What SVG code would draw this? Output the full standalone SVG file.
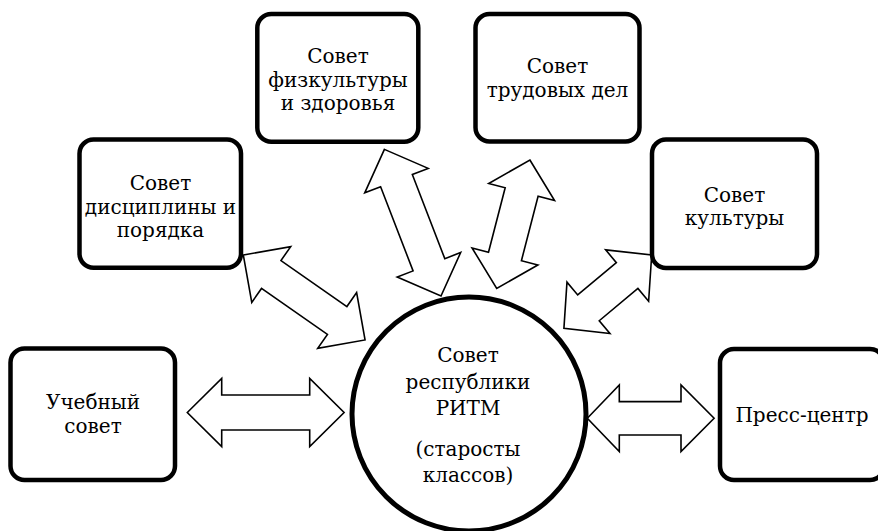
<svg xmlns="http://www.w3.org/2000/svg" width="878" height="531" viewBox="0 0 878 531">
  <style>
    .box { fill: #fff; stroke: #000; stroke-width: 4.5; }
    .arrow { fill: #fff; stroke: #000; stroke-width: 1.6; stroke-linejoin: miter; }
    text { font-family: 'DejaVu Serif', 'Liberation Serif', serif; font-size: 20px; fill: #000; text-anchor: middle; }
  </style>
  <rect width="878" height="531" fill="#fff"/>
  <g id="connectors">
    <path class="arrow" transform="translate(304.2 297.5) rotate(34.9)" d="M -74.2 0 L -40.2 -34 L -40.2 -17 L 40.2 -17 L 40.2 -34 L 74.2 0 L 40.2 34 L 40.2 17 L -40.2 17 L -40.2 34 Z"/>
    <path class="arrow" transform="translate(412.7 222.7) rotate(68.9)" d="M -78.6 0 L -45.1 -34 L -45.1 -17 L 45.1 -17 L 45.1 -34 L 78.6 0 L 45.1 34 L 45.1 17 L -45.1 17 L -45.1 34 Z"/>
    <path class="arrow" transform="translate(513.3 224.2) rotate(104.5)" d="M -66.3 0 L -33.3 -34 L -33.3 -17 L 33.3 -17 L 33.3 -34 L 66.3 0 L 33.3 34 L 33.3 17 L -33.3 17 L -33.3 34 Z"/>
    <path class="arrow" transform="translate(607.8 291.7) rotate(140.1)" d="M -57.2 0 L -25.2 -33.5 L -25.2 -16.8 L 25.2 -16.8 L 25.2 -33.5 L 57.2 0 L 25.2 33.5 L 25.2 16.8 L -25.2 16.8 L -25.2 33.5 Z"/>
    <path class="arrow" transform="translate(265.7 412.5)" d="M -78.4 0 L -44 -34 L -44 -17.5 L 44 -17.5 L 44 -34 L 78.4 0 L 44 34 L 44 17.5 L -44 17.5 L -44 34 Z"/>
    <path class="arrow" transform="translate(650.7 418.3)" d="M -63.4 0 L -31.4 -33.3 L -31.4 -16.7 L 30.3 -16.7 L 30.3 -33.3 L 63.4 0 L 30.3 33.3 L 30.3 16.7 L -31.4 16.7 L -31.4 33.3 Z"/>
  </g>
  <g id="node-fizkultura">
    <rect class="box" x="257.3" y="14" width="161" height="127.7" rx="14"/>
    <text x="338" y="63">Совет</text>
    <text x="338" y="87">физкультуры</text>
    <text x="338" y="110">и здоровья</text>
  </g>
  <g id="node-trud">
    <rect class="box" x="475.5" y="14" width="164" height="127.5" rx="14"/>
    <text x="557.5" y="73">Совет</text>
    <text x="557.5" y="97">трудовых дел</text>
  </g>
  <g id="node-discipline">
    <rect class="box" x="79.5" y="139.5" width="161.5" height="128.2" rx="14"/>
    <text x="160.5" y="190">Совет</text>
    <text x="160.5" y="213.5">дисциплины и</text>
    <text x="160.5" y="237">порядка</text>
  </g>
  <g id="node-culture">
    <rect class="box" x="652" y="139.5" width="165" height="128.5" rx="14"/>
    <text x="734.5" y="202">Совет</text>
    <text x="734.5" y="225">культуры</text>
  </g>
  <g id="node-uchebny">
    <rect class="box" x="10.5" y="348.5" width="164.5" height="131.5" rx="14"/>
    <text x="93" y="409">Учебный</text>
    <text x="93" y="433">совет</text>
  </g>
  <g id="node-press">
    <rect class="box" x="720" y="349" width="164" height="131" rx="14"/>
    <text x="802" y="422">Пресс-центр</text>
  </g>
  <g id="node-center">
    <circle cx="469" cy="414" r="117" fill="#fff" stroke="#000" stroke-width="5"/>
    <text x="468" y="362">Совет</text>
    <text x="468" y="389">республики</text>
    <text x="468" y="415">РИТМ</text>
    <text x="468" y="456">(старосты</text>
    <text x="468" y="482">классов)</text>
  </g>
</svg>
